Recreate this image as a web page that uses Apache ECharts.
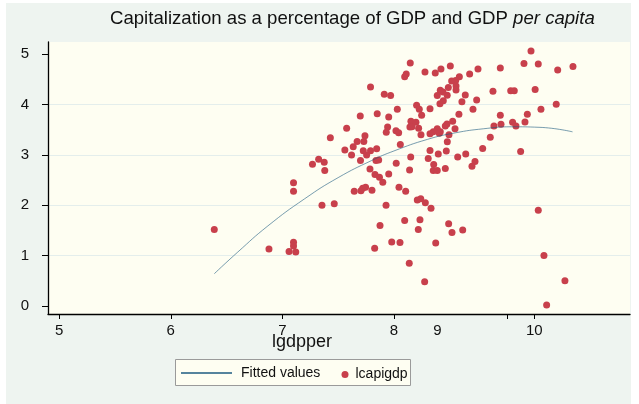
<!DOCTYPE html>
<html>
<head>
<meta charset="utf-8">
<script src="https://cdn.jsdelivr.net/npm/echarts@6/dist/echarts.min.js"></script>
<style>
html,body{margin:0;padding:0;background:#ffffff;}
#chart{width:639px;height:404px;}
</style>
</head>
<body>
<div id="chart"></div>
<script>
// x values (lgdpper) of observed points
const lgdpper = [
6.39,6.88,7.10,7.10,7.06,7.12,7.10,7.10,7.27,7.325,7.375,7.38,7.355,7.465,7.43,7.56,7.62,7.635,7.67,7.73,
7.74,7.725,7.79,7.755,7.70,7.845,7.863,7.839,7.785,7.83,7.87,7.90,7.953,8.02,7.644,7.704,7.72,7.746,7.803,7.929,
7.875,7.827,7.98,7.576,7.698,7.79,7.913,7.97,7.85,7.953,7.943,7.931,8.03,8.018,8.042,8.057,8.15,8.14,8.045,8.105,
8.209,8.24,8.281,8.332,8.096,8.233,8.49,8.218,8.52,8.616,8.054,8.374,8.137,8.275,8.146,8.11,8.096,8.278,8.37,8.421,
8.505,8.678,8.753,8.953,9.165,9.228,9.293,9.467,9.604,8.586,8.553,8.517,8.556,8.556,8.487,8.415,8.439,8.388,8.477,8.639,
8.442,8.412,8.741,8.609,8.887,9.046,9.078,9.265,9.454,9.317,9.195,9.174,9.093,9.063,8.953,8.959,8.896,8.863,8.795,9.135,
8.708,8.582,8.526,8.475,8.46,8.547,8.493,8.478,8.469,8.643,8.571,8.726,8.699,8.46,8.388,8.352,8.356,8.397,8.323,8.307,
8.388,8.415,8.406,8.352,8.323,8.242,8.248,8.227,8.203,8.323,8.152,8.143,8.197,8.221,8.161,9.293,9.344,9.532,9.368
];
// y values (lcapigdp) of observed points
const lcapigdp = [
1.52,1.13,1.265,1.19,1.08,1.07,2.45,2.28,2.815,2.915,2.855,2.69,2.0,2.03,3.34,3.10,3.0,3.165,3.27,3.27,
3.38,3.085,3.085,3.0,2.89,3.125,2.90,2.89,2.72,2.61,2.556,2.457,2.62,2.835,2.28,2.29,2.34,2.36,2.30,2.0,
1.60,1.145,1.27,3.53,3.775,4.35,4.205,4.18,3.82,3.755,3.556,3.45,3.91,3.48,3.44,3.21,2.96,2.70,2.36,2.28,
2.105,2.13,2.05,1.94,1.70,1.715,1.635,1.52,1.46,1.51,1.26,1.25,0.85,0.48,4.83,4.61,4.555,4.65,4.63,4.71,
4.77,4.61,4.71,4.73,4.82,5.066,4.81,4.69,4.76,4.555,4.48,4.47,4.37,4.29,4.34,4.285,4.25,4.18,4.185,4.19,
4.08,4.02,4.09,4.06,4.265,4.277,4.277,4.30,4.01,3.91,3.81,3.655,3.576,3.65,3.79,3.61,3.576,3.35,3.13,3.07,
3.91,3.81,3.67,3.615,3.576,3.52,3.40,3.265,3.08,3.02,2.96,2.87,2.775,2.73,2.69,2.69,2.81,3.02,3.09,2.93,
3.52,3.46,3.43,3.46,3.42,3.40,3.79,3.91,3.99,3.92,3.67,3.556,3.65,3.53,3.56,1.90,1.0,0.50,0.02
];
// fitted values
const fitX = [6.39,6.6,6.87,7.2,7.5,7.8,8.0,8.3,8.55,8.8,9.05,9.3,9.6];
const fitY = [0.64,1.07,1.59,2.13,2.55,2.89,3.08,3.31,3.44,3.52,3.56,3.55,3.46];
// axis ticks & labels
const xTickValues = [5,6,7,8,9.015,9.257];
const xLabelValues = [5,6,7,8,8.389,9.257];
const xTickLabels = ['5','6','7','8','9','10'];
const yTickValues = [0,1,2,3,4,5];
const yTickLabels = ['0','1','2','3','4','5'];

const scatterData = lgdpper.map((x,i)=>[x,lcapigdp[i]]);
const fitData = fitX.map((x,i)=>[x,fitY[i]]);

const FONT = 'Liberation Sans, Arial, Helvetica, sans-serif';
const chart = echarts.init(document.getElementById('chart'), null, {renderer:'canvas'});
chart.setOption({
  animation:false,
  backgroundColor:'#ffffff',
  textStyle:{fontFamily:FONT},
  graphic:[
    {type:'rect', z:-10, shape:{x:6,y:3,width:625,height:401}, style:{fill:'#eef4f0'}},
    {type:'rect', z:5, shape:{x:175.5,y:359.5,width:235,height:26}, style:{fill:'#fefef2',stroke:'#9a9a9a',lineWidth:1}}
  ],
  title:{
    left:105, top:4,
    text:'{a|Capitalization as a percentage of GDP and GDP }{b|per capita}',
    textStyle:{
      fontWeight:'normal',
      rich:{
        a:{fontSize:18.6, color:'#111', fontFamily:FONT, fontWeight:'normal'},
        b:{fontSize:18.6, color:'#111', fontFamily:FONT, fontWeight:'normal', fontStyle:'italic'}
      }
    }
  },
  grid:{left:48, right:9, top:42, bottom:90, show:true, backgroundColor:'#fefef2', borderWidth:0},
  legend:[
    {
      data:[{name:'Fitted values', icon:'rect'}], left:181, top:366, padding:0,
      itemWidth:51, itemHeight:1.4, itemGap:0,
      textStyle:{fontSize:14, color:'#111', fontFamily:FONT, padding:[0,0,0,4]},
      z:10
    },
    {
      data:[{name:'lcapigdp', icon:'circle'}], left:341.5, top:367.5, padding:0,
      itemWidth:7, itemHeight:7, itemGap:0,
      textStyle:{fontSize:14, color:'#111', fontFamily:FONT, padding:[0,0,0,2]},
      z:10
    }
  ],
  xAxis:{
    type:'value', min:4.9, max:10.115,
    name:'lgdpper', nameLocation:'middle', nameGap:19, nameMoveOverlap:false,
    nameTextStyle:{fontSize:18, color:'#111', fontFamily:FONT, padding:[0,74,0,0], verticalAlign:'top'},
    axisLine:{show:true, onZero:false, lineStyle:{color:'#000', width:1.3}},
    axisTick:{show:true, length:5, customValues:xTickValues, lineStyle:{color:'#000', width:1}},
    axisLabel:{
      customValues:xLabelValues, margin:9, fontSize:15, color:'#111', fontFamily:FONT,
      formatter:function(v){
        let best=0, d=1e9;
        xLabelValues.forEach((p,i)=>{ if(Math.abs(p-v)<d){d=Math.abs(p-v);best=i;} });
        return xTickLabels[best];
      }
    },
    splitLine:{show:false}
  },
  yAxis:{
    type:'value', min:-0.16, max:5.245,
    axisLine:{show:true, onZero:false, lineStyle:{color:'#000', width:1.3}},
    axisTick:{show:true, length:6, customValues:yTickValues, lineStyle:{color:'#000', width:1}},
    axisLabel:{
      customValues:yTickValues, margin:19, fontSize:15, color:'#111', fontFamily:FONT,
      padding:[0,0,8,0],
      formatter:function(v){
        const i = yTickValues.indexOf(Math.round(v));
        return i>=0 ? yTickLabels[i] : '';
      }
    },
    splitLine:{show:true, showMinLine:false, showMaxLine:false, lineStyle:{color:'#e4eeec', width:1}}
  },
  series:[
    {
      name:'Fitted values', type:'line', data:fitData, smooth:true,
      symbol:'none', showSymbol:false,
      color:'#1d5b80',
      lineStyle:{color:'#1d5b80', width:0.6},
      itemStyle:{color:'#1d5b80'},
      z:3
    },
    {
      name:'lcapigdp', type:'scatter', data:scatterData,
      symbol:'circle', symbolSize:7,
      itemStyle:{color:'#c8404c', opacity:1},
      z:2
    }
  ]
});
</script>
</body>
</html>
